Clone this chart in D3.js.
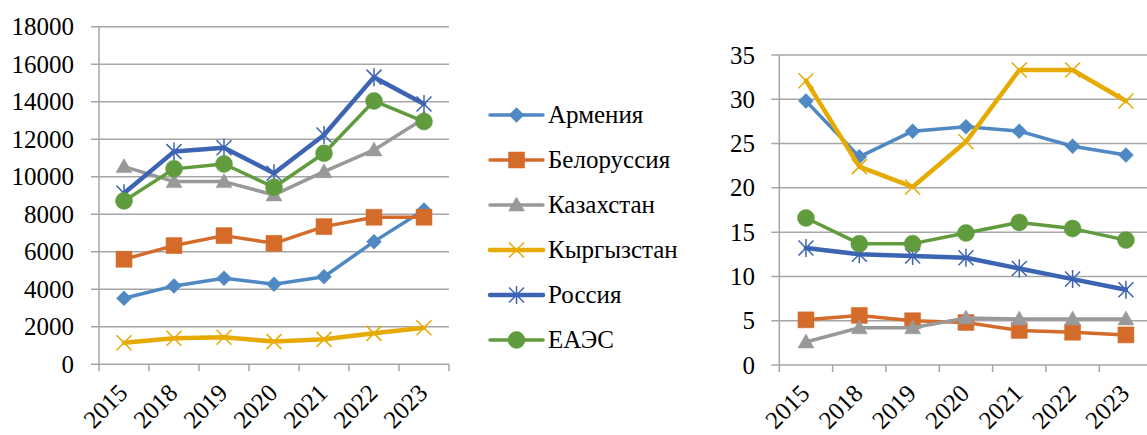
<!DOCTYPE html>
<html><head><meta charset="utf-8">
<script src="https://cdn.jsdelivr.net/npm/d3@7"></script>
</head><body style="margin:0">
<svg id="c" width="1147" height="435" font-family="Liberation Serif" style="font-family:'Liberation Serif'"></svg>
<script>
const years = ["2015","2018","2019","2020","2021","2022","2023"];
const seriesNames = ["Армения","Белоруссия","Казахстан","Кыргызстан","Россия","ЕАЭС"];
// left chart values
const armeniaL = [3520,4180,4590,4270,4670,6540,8230];
const belarusL = [5600,6330,6860,6450,7340,7840,7840];
const kazakhL  = [10540,9740,9740,9030,10270,11430,13100];
const kyrgyzL  = [1150,1390,1440,1210,1330,1650,1950];
const russiaL  = [9120,11340,11550,10190,12230,15310,13880];
const eaesL    = [8710,10420,10680,9440,11250,14040,12940];
// right chart values
const armeniaR = [29.8,23.5,26.4,26.9,26.4,24.7,23.7];
const belarusR = [5.1,5.6,5.0,4.8,3.9,3.7,3.4];
const kazakhR  = [2.6,4.2,4.2,5.3,5.2,5.2,5.2];
const kyrgyzR  = [32.1,22.4,20.1,25.2,33.3,33.3,29.8];
const russiaR  = [13.2,12.5,12.3,12.1,10.9,9.7,8.5];
const eaesR    = [16.6,13.7,13.7,14.9,16.1,15.4,14.1];
const leftTicks = [0,2000,4000,6000,8000,10000,12000,14000,16000,18000];
const rightTicks = [0,5,10,15,20,25,30,35];

const styles = [
  {color:"#4F88C2", width:3.5, marker:"diamond"},
  {color:"#D56B2B", width:3.5, marker:"square"},
  {color:"#999999", width:3.5, marker:"triangle"},
  {color:"#E6AA00", width:4.5, marker:"x"},
  {color:"#3D64B2", width:4.5, marker:"star"},
  {color:"#609B3D", width:3.5, marker:"circle"}
];
const svg = d3.select("#c");
function addText(x, y, str, anchor, transform){
  const t = svg.append("text").attr("font-size",25)
    .attr("font-family","Liberation Serif")
    .style("font-family",'"Liberation Serif"')
    .attr("fill","#000").attr("text-anchor",anchor).text(str);
  if(transform) t.attr("transform", transform); else t.attr("x",x).attr("y",y);
  t.node().getComputedTextLength();
  return t;
}

function markerPath(type, x, y){
  const p = d3.path();
  if(type==="diamond"){ const s=7.5; p.moveTo(x,y-s);p.lineTo(x+s,y);p.lineTo(x,y+s);p.lineTo(x-s,y);p.closePath(); }
  else if(type==="square"){ const s=8; p.rect(x-s,y-s,2*s,2*s); }
  else if(type==="triangle"){ p.moveTo(x,y-8);p.lineTo(x+8,y+6);p.lineTo(x-8,y+6);p.closePath(); }
  else if(type==="circle"){ p.arc(x,y,8.5,0,2*Math.PI); }
  else if(type==="x"){ const s=7.5; p.moveTo(x-s,y-s);p.lineTo(x+s,y+s);p.moveTo(x+s,y-s);p.lineTo(x-s,y+s); }
  else if(type==="star"){ const s=7.5; p.moveTo(x-s,y-s);p.lineTo(x+s,y+s);p.moveTo(x+s,y-s);p.lineTo(x-s,y+s);p.moveTo(x,y-s-1.5);p.lineTo(x,y+s+1.5); }
  return p.toString();
}
function drawMarker(type, color, x, y){
  const filled = !(type==="x"||type==="star");
  svg.append("path").attr("d", markerPath(type,x,y))
    .attr("fill", filled?color:"none")
    .attr("stroke", color)
    .attr("stroke-width", filled?0.5:1.5);
}

function chart(cfg){
  const x = d3.scaleBand().domain(years).range([cfg.x0, cfg.x1]);
  const y = d3.scaleLinear().domain([0, cfg.max]).range([cfg.y0, cfg.y1]);
  cfg.ticks.forEach(t=>{
    svg.append("line").attr("x1", cfg.x0-8).attr("x2", cfg.x1).attr("y1", y(t)).attr("y2", y(t))
      .attr("stroke","#a6a6a6").attr("stroke-width",1.5);
  });
  svg.append("line").attr("x1",cfg.x0).attr("x2",cfg.x0).attr("y1",cfg.y1).attr("y2",cfg.y0+7)
    .attr("stroke","#a6a6a6").attr("stroke-width",1.5);
  years.slice(1).map(d=>x(d)).concat([cfg.x1]).forEach(b=>{
    svg.append("line").attr("x1",b).attr("x2",b).attr("y1",cfg.y0).attr("y2",cfg.y0+7)
      .attr("stroke","#a6a6a6").attr("stroke-width",1.5);
  });
  cfg.ticks.forEach(t=> addText(cfg.labelX, y(t)+8.5, String(t), "end"));
  years.forEach(d=> addText(0,0,d,"end",`translate(${x(d)+x.bandwidth()/2+5},${cfg.y0+30}) rotate(-45)`));
  const line = d3.line().x((d,i)=>x(years[i])+x.bandwidth()/2).y(d=>y(d));
  cfg.data.forEach((vals,si)=>{
    const st = styles[si];
    svg.append("path").attr("d", line(vals)).attr("fill","none")
      .attr("stroke", st.color).attr("stroke-width", st.width)
      .attr("stroke-linejoin","round").attr("stroke-linecap","round");
    vals.forEach((v,i)=>drawMarker(st.marker, st.color, x(years[i])+x.bandwidth()/2, y(v)));
  });
}

chart({x0:99, x1:449, y0:364.3, y1:26.7, max:18000, ticks:leftTicks, labelX:74,
  data:[armeniaL,belarusL,kazakhL,kyrgyzL,russiaL,eaesL]});
chart({x0:779.3, x1:1152.6, y0:365, y1:55, max:35, ticks:rightTicks, labelX:755,
  data:[armeniaR,belarusR,kazakhR,kyrgyzR,russiaR,eaesR]});

const legendY = d3.scalePoint().domain(seriesNames).range([115, 340]);
seriesNames.forEach((name,i)=>{
  const st = styles[i], yy = legendY(name);
  svg.append("line").attr("x1",490).attr("x2",543).attr("y1",yy).attr("y2",yy)
    .attr("stroke",st.color).attr("stroke-width",st.width).attr("stroke-linecap","round");
  drawMarker(st.marker, st.color, 516.5, yy);
  addText(548, yy+8, name, "start");
});
</script>
</body></html>
